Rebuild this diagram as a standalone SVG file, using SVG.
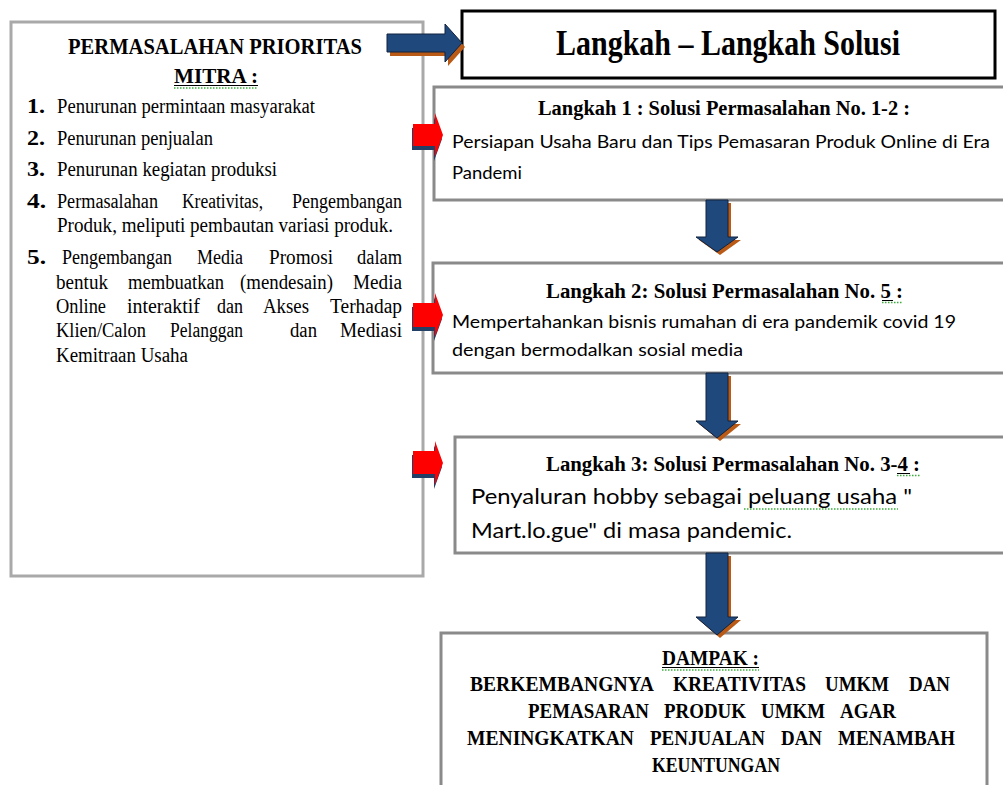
<svg xmlns="http://www.w3.org/2000/svg" width="1003" height="785" viewBox="0 0 1003 785">
<style>
.bg{fill:#fff}
.leftbox{fill:#fff;stroke:#a9a9a9;stroke-width:3}
.stepbox{fill:#fff;stroke:#8a8a8a;stroke-width:3}
.titlebox{fill:#fff;stroke:#000;stroke-width:3}
.serif{font-family:"Liberation Serif","Times New Roman",serif;fill:#000}
.b{font-weight:bold}
.sans{font-family:Lato,"Open Sans","Liberation Sans",sans-serif;fill:#000}
.blue{fill:#1f497d;stroke:#10223f;stroke-width:1}
.orange{fill:#b95b16}
.red{fill:#ff0000}
.navy{fill:#243f66}
.ul{stroke:#000;stroke-width:1}
.sq{stroke:#3dae3d;stroke-width:1.3;stroke-dasharray:1.5 1.5;fill:none}
</style>
<rect class="bg" x="0" y="0" width="1003" height="785"/>

<g id="problems">
  <rect class="leftbox" x="11" y="22" width="412" height="554"/>
  <text class="serif b" x="68" y="54" font-size="23" textLength="294" lengthAdjust="spacingAndGlyphs">PERMASALAHAN  PRIORITAS</text>
  <text class="serif b" x="174" y="83" font-size="22" textLength="84" lengthAdjust="spacingAndGlyphs">MITRA  :</text>
  <line class="ul" x1="174" y1="85.5" x2="258" y2="85.5"/>
  <line class="sq" x1="174" y1="88" x2="258" y2="88"/>
  <g class="serif">
    <text class="b" x="27" y="113" font-size="22" textLength="18" lengthAdjust="spacingAndGlyphs">1.</text>
    <text x="57" y="113" font-size="20" textLength="258" lengthAdjust="spacingAndGlyphs">Penurunan permintaan masyarakat</text>
    <text class="b" x="27" y="145" font-size="22" textLength="18" lengthAdjust="spacingAndGlyphs">2.</text>
    <text x="57" y="145" font-size="20" textLength="156" lengthAdjust="spacingAndGlyphs">Penurunan penjualan</text>
    <text class="b" x="27" y="176" font-size="22" textLength="18" lengthAdjust="spacingAndGlyphs">3.</text>
    <text x="57" y="176" font-size="20" textLength="220" lengthAdjust="spacingAndGlyphs">Penurunan kegiatan  produksi</text>
    <text class="b" x="27" y="208" font-size="22" textLength="19" lengthAdjust="spacingAndGlyphs">4.</text>
    <text x="57" y="208" font-size="20" textLength="101" lengthAdjust="spacingAndGlyphs">Permasalahan</text>
    <text x="182" y="208" font-size="20" textLength="81" lengthAdjust="spacingAndGlyphs">Kreativitas,</text>
    <text x="292" y="208" font-size="20" textLength="110" lengthAdjust="spacingAndGlyphs">Pengembangan</text>
    <text x="57" y="232" font-size="20" textLength="336" lengthAdjust="spacingAndGlyphs">Produk, meliputi  pembautan variasi produk.</text>
    <text class="b" x="27" y="264" font-size="22" textLength="19" lengthAdjust="spacingAndGlyphs">5.</text>
    <text x="62" y="264" font-size="20" textLength="110" lengthAdjust="spacingAndGlyphs">Pengembangan</text>
    <text x="197" y="264" font-size="20" textLength="46" lengthAdjust="spacingAndGlyphs">Media</text>
    <text x="269" y="264" font-size="20" textLength="64" lengthAdjust="spacingAndGlyphs">Promosi</text>
    <text x="357" y="264" font-size="20" textLength="45" lengthAdjust="spacingAndGlyphs">dalam</text>
    <text x="56" y="289" font-size="20" textLength="52" lengthAdjust="spacingAndGlyphs">bentuk</text>
    <text x="128" y="289" font-size="20" textLength="96" lengthAdjust="spacingAndGlyphs">membuatkan</text>
    <text x="240" y="289" font-size="20" textLength="93" lengthAdjust="spacingAndGlyphs">(mendesain)</text>
    <text x="353" y="289" font-size="20" textLength="49" lengthAdjust="spacingAndGlyphs">Media</text>
    <text x="56" y="313" font-size="20" textLength="50" lengthAdjust="spacingAndGlyphs">Online</text>
    <text x="127" y="313" font-size="20" textLength="73" lengthAdjust="spacingAndGlyphs">interaktif</text>
    <text x="217" y="313" font-size="20" textLength="26" lengthAdjust="spacingAndGlyphs">dan</text>
    <text x="263" y="313" font-size="20" textLength="46" lengthAdjust="spacingAndGlyphs">Akses</text>
    <text x="330" y="313" font-size="20" textLength="72" lengthAdjust="spacingAndGlyphs">Terhadap</text>
    <text x="56" y="337" font-size="20" textLength="90" lengthAdjust="spacingAndGlyphs">Klien/Calon</text>
    <text x="170" y="337" font-size="20" textLength="73" lengthAdjust="spacingAndGlyphs">Pelanggan</text>
    <text x="290" y="337" font-size="20" textLength="27" lengthAdjust="spacingAndGlyphs">dan</text>
    <text x="340" y="337" font-size="20" textLength="62" lengthAdjust="spacingAndGlyphs">Mediasi</text>
    <text x="56" y="362" font-size="20" textLength="132" lengthAdjust="spacingAndGlyphs">Kemitraan Usaha</text>
  </g>
</g>

<g id="title">
  <rect class="titlebox" x="462" y="11" width="533" height="67"/>
  <text class="serif b" x="556" y="55" font-size="35" textLength="344" lengthAdjust="spacingAndGlyphs">Langkah – Langkah Solusi</text>
</g>

<g id="step1">
  <rect class="stepbox" x="434" y="87" width="620" height="113"/>
  <text class="serif b" x="538" y="115" font-size="20" textLength="372" lengthAdjust="spacingAndGlyphs">Langkah 1 : Solusi Permasalahan  No. 1-2 :</text>
  <text class="sans" x="452" y="148" font-size="17" textLength="538" lengthAdjust="spacingAndGlyphs">Persiapan Usaha Baru dan Tips Pemasaran Produk Online di Era</text>
  <text class="sans" x="452" y="179" font-size="17" textLength="70" lengthAdjust="spacingAndGlyphs">Pandemi</text>
</g>

<g id="step2">
  <rect class="stepbox" x="433" y="263" width="620" height="110"/>
  <text class="serif b" x="546" y="298" font-size="20" textLength="357" lengthAdjust="spacingAndGlyphs">Langkah 2: Solusi Permasalahan  No. 5 :</text>
  <line class="ul" x1="882" y1="300.5" x2="893" y2="300.5"/>
  <line class="sq" x1="882" y1="302.5" x2="903" y2="302.5"/>
  <text class="sans" x="452" y="328" font-size="17" textLength="504" lengthAdjust="spacingAndGlyphs">Mempertahankan bisnis rumahan di era pandemik covid 19</text>
  <text class="sans" x="452" y="356" font-size="17" textLength="291" lengthAdjust="spacingAndGlyphs">dengan bermodalkan sosial media</text>
</g>

<g id="step3">
  <rect class="stepbox" x="455" y="437" width="620" height="116"/>
  <text class="serif b" x="546" y="471" font-size="20" textLength="374" lengthAdjust="spacingAndGlyphs">Langkah 3: Solusi Permasalahan  No. 3-4 :</text>
  <line class="ul" x1="897" y1="473.5" x2="910" y2="473.5"/>
  <line class="sq" x1="897" y1="475.5" x2="920" y2="475.5"/>
  <text class="sans" x="471" y="504" font-size="22" textLength="441" lengthAdjust="spacingAndGlyphs">Penyaluran hobby sebagai peluang usaha "</text>
  <line class="sq" x1="744" y1="509" x2="898" y2="509"/>
  <text class="sans" x="471" y="538" font-size="22" textLength="321" lengthAdjust="spacingAndGlyphs">Mart.lo.gue" di masa pandemic.</text>
</g>

<g id="impact">
  <rect class="stepbox" x="441" y="633" width="546" height="200"/>
  <g class="serif b" font-size="22">
    <text x="662" y="665" textLength="97" lengthAdjust="spacingAndGlyphs">DAMPAK :</text>
    <text x="470" y="691" textLength="184" lengthAdjust="spacingAndGlyphs">BERKEMBANGNYA</text>
    <text x="673" y="691" textLength="133" lengthAdjust="spacingAndGlyphs">KREATIVITAS</text>
    <text x="825" y="691" textLength="64" lengthAdjust="spacingAndGlyphs">UMKM</text>
    <text x="909" y="691" textLength="41" lengthAdjust="spacingAndGlyphs">DAN</text>
    <text x="528" y="718" textLength="121" lengthAdjust="spacingAndGlyphs">PEMASARAN</text>
    <text x="664" y="718" textLength="82" lengthAdjust="spacingAndGlyphs">PRODUK</text>
    <text x="761" y="718" textLength="64" lengthAdjust="spacingAndGlyphs">UMKM</text>
    <text x="840" y="718" textLength="56" lengthAdjust="spacingAndGlyphs">AGAR</text>
    <text x="467" y="745" textLength="167" lengthAdjust="spacingAndGlyphs">MENINGKATKAN</text>
    <text x="650" y="745" textLength="115" lengthAdjust="spacingAndGlyphs">PENJUALAN</text>
    <text x="781" y="745" textLength="41" lengthAdjust="spacingAndGlyphs">DAN</text>
    <text x="838" y="745" textLength="117" lengthAdjust="spacingAndGlyphs">MENAMBAH</text>
    <text x="652" y="772" textLength="128" lengthAdjust="spacingAndGlyphs">KEUNTUNGAN</text>
  </g>
  <line class="ul" x1="662" y1="667.5" x2="759" y2="667.5"/>
  <line class="sq" x1="662" y1="670" x2="759" y2="670"/>
</g>

<g id="connectors">
  <path class="orange" transform="translate(3,4)" d="M387,34 H445 V24 L462,43 L445,62 V52 H387 Z"/>
  <path class="blue" d="M387,34 H445 V24 L462,43 L445,62 V52 H387 Z"/>

  <path class="navy" transform="translate(-1,4)" d="M413,124 H435 V113 L443,135 L435,157 V146 H413 Z"/>
  <path class="red" d="M413,124 H435 V113 L443,135 L435,157 V146 H413 Z"/>
  <path class="navy" transform="translate(-1,4)" d="M413,303 H435 V293 L443,315 L435,337 V327 H413 Z"/>
  <path class="red" d="M413,303 H435 V293 L443,315 L435,337 V327 H413 Z"/>
  <path class="navy" transform="translate(-1,4)" d="M413,451 H435 V441 L443,463 L435,485 V474 H413 Z"/>
  <path class="red" d="M413,451 H435 V441 L443,463 L435,485 V474 H413 Z"/>

  <path class="orange" transform="translate(3,3)" d="M706,200 H728 V237 H738 L717,252 L696,237 H706 Z"/>
  <path class="blue" d="M706,200 H728 V237 H738 L717,252 L696,237 H706 Z"/>
  <path class="orange" transform="translate(3,3)" d="M706,373 H728 V421 H738 L717,438 L696,421 H706 Z"/>
  <path class="blue" d="M706,373 H728 V421 H738 L717,438 L696,421 H706 Z"/>
  <path class="orange" transform="translate(3,3)" d="M706,553 H728 V617 H738 L717,635 L696,617 H706 Z"/>
  <path class="blue" d="M706,553 H728 V617 H738 L717,635 L696,617 H706 Z"/>
</g>
</svg>
